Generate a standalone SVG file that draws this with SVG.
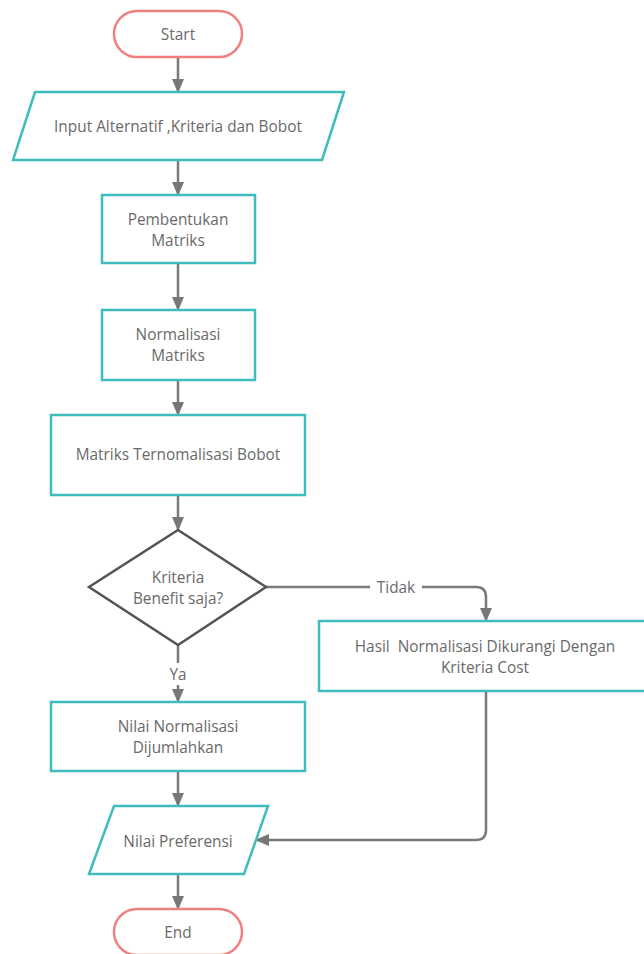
<svg xmlns="http://www.w3.org/2000/svg" width="644" height="954" viewBox="0 0 644 954">
<style>
.term{fill:#fff;stroke:#f27f7f;stroke-width:2.5}
.proc{fill:#fff;stroke:#3fbcbc;stroke-width:2.5}
.dec{fill:#fff;stroke:#555;stroke-width:2.5}
.t{font-family:"Open Sans","Noto Sans",sans-serif;font-size:15.4px;fill:#6a6a6a;text-anchor:middle;white-space:pre}
.c{fill:none;stroke:#7a7a7a;stroke-width:2.5}
</style>
<defs>
<marker id="ah" markerWidth="14" markerHeight="12" refX="12" refY="6" orient="auto" markerUnits="userSpaceOnUse">
<path d="M0,0 L14,6 L0,12 Z" fill="#777"/>
</marker>
</defs>
<rect width="644" height="954" fill="#fff"/>
<g id="connectors">
<line class="c" x1="178" y1="57" x2="178" y2="91" marker-end="url(#ah)"/>
<line class="c" x1="178" y1="160" x2="178" y2="194" marker-end="url(#ah)"/>
<line class="c" x1="178" y1="263" x2="178" y2="309" marker-end="url(#ah)"/>
<line class="c" x1="178" y1="380" x2="178" y2="414" marker-end="url(#ah)"/>
<line class="c" x1="178" y1="495" x2="178" y2="529" marker-end="url(#ah)"/>
<line class="c" x1="178" y1="645" x2="178" y2="663"/>
<line class="c" x1="178" y1="685" x2="178" y2="701" marker-end="url(#ah)"/>
<path class="c" d="M266,587 H370 M422,587 H476 Q486,587 486,597 V620" marker-end="url(#ah)"/>
<path class="c" d="M486,691 V830 Q486,840 476,840 H257" marker-end="url(#ah)"/>
<line class="c" x1="178" y1="771" x2="178" y2="805" marker-end="url(#ah)"/>
<line class="c" x1="178" y1="874" x2="178" y2="908" marker-end="url(#ah)"/>
<text class="t" x="396" y="593">Tidak</text>
<text class="t" x="178" y="680">Ya</text>
</g>
<g id="start">
<rect class="term" x="114" y="11" width="128" height="46" rx="23"/>
<text class="t" x="178" y="40">Start</text>
</g>
<g id="input">
<polygon class="proc" points="35,92 344,92 322,160 13,160"/>
<text class="t" x="178" y="132">Input Alternatif ,Kriteria dan Bobot</text>
</g>
<g id="pembentukan">
<rect class="proc" x="102" y="195" width="153" height="68"/>
<text class="t" x="178" y="225">Pembentukan</text>
<text class="t" x="178" y="246">Matriks</text>
</g>
<g id="normalisasi">
<rect class="proc" x="102" y="310" width="153" height="70"/>
<text class="t" x="178" y="340">Normalisasi</text>
<text class="t" x="178" y="361">Matriks</text>
</g>
<g id="ternormalisasi">
<rect class="proc" x="51" y="415" width="254" height="80"/>
<text class="t" x="178" y="460">Matriks Ternomalisasi Bobot</text>
</g>
<g id="decision">
<polygon class="dec" points="178,530 266,587 178,645 89,587"/>
<text class="t" x="178" y="583">Kriteria</text>
<text class="t" x="178" y="604">Benefit saja?</text>
</g>
<g id="hasil">
<rect class="proc" x="319" y="621" width="340" height="70"/>
<text class="t" x="485" y="652">Hasil  Normalisasi Dikurangi Dengan</text>
<text class="t" x="485" y="673">Kriteria Cost</text>
</g>
<g id="jumlah">
<rect class="proc" x="51" y="702" width="254" height="69"/>
<text class="t" x="178" y="732">Nilai Normalisasi</text>
<text class="t" x="178" y="753">Dijumlahkan</text>
</g>
<g id="preferensi">
<polygon class="proc" points="114,806 268,806 244,874 89,874"/>
<text class="t" x="178" y="847">Nilai Preferensi</text>
</g>
<g id="end">
<rect class="term" x="114" y="909" width="128" height="46" rx="23"/>
<text class="t" x="178" y="938">End</text>
</g>
</svg>
